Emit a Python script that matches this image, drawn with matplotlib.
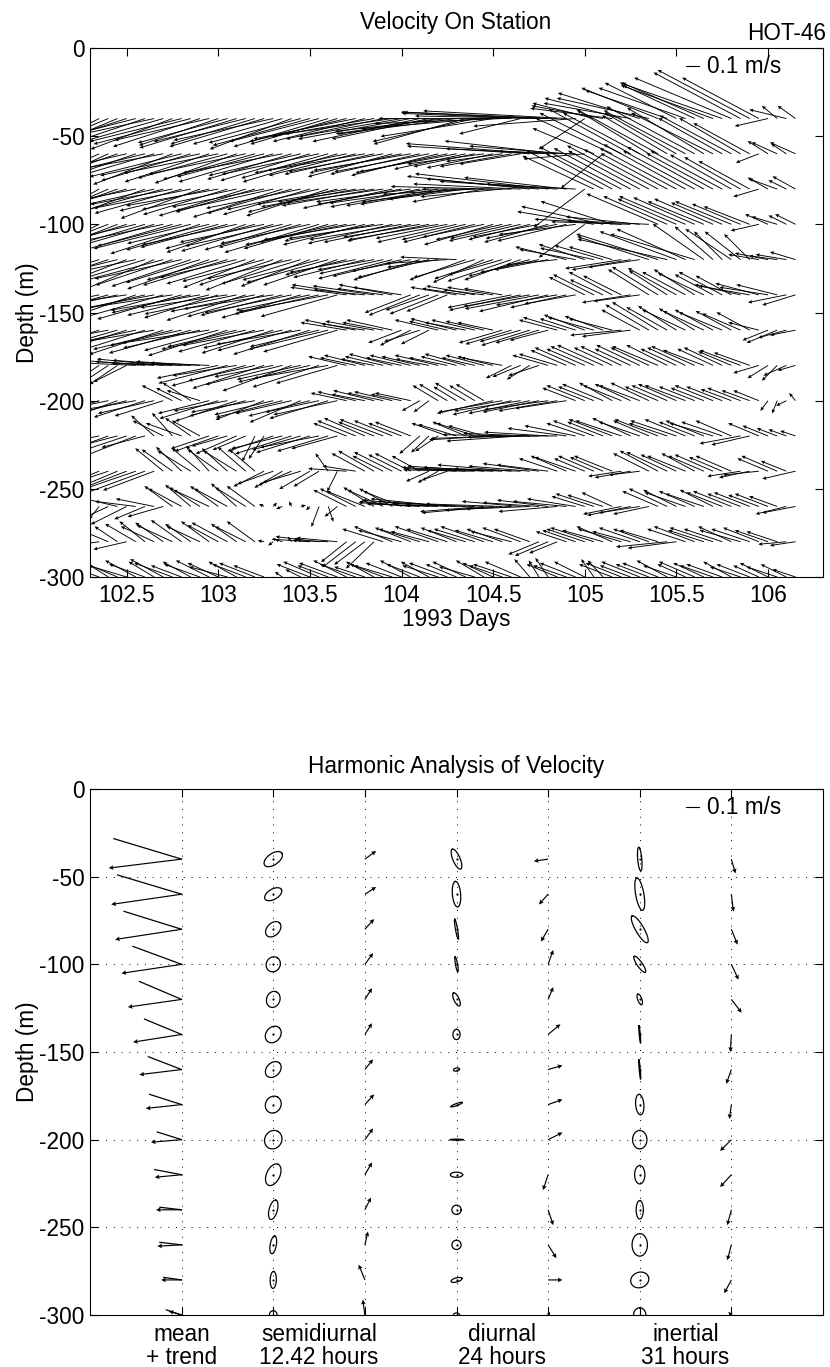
import numpy as np
import matplotlib
matplotlib.use('Agg')
import matplotlib.pyplot as plt

plt.rcParams['font.family'] = ['Liberation Sans', 'DejaVu Sans']
plt.rcParams['axes.unicode_minus'] = False

# ---------------- data: velocity on station (cm/s) ----------------
# sampling: every 0.05 day starting 102.30
T_START = 102.30
T_STEP = 0.05
depths = [40, 60, 80, 100, 120, 140, 160, 180, 200, 220, 240, 260, 280, 300]

u40 = [-32, -40, -44, -48,
       -62, -70, -66, -74, -70, -64, -72, -76, -68, -74, -62, -70, -76, -72, -66, -74, -78, -70, -64, -72, -76, -70, -74, -68,
       -76, -80, -72, -80, -76, -84, -80, -88, -84, -76, -80, -88, -92, -72, -80, -96, -88, -100, -104, -48, -100, -108, -104, -120, -112, -80,
       -36, -48, -56, -64, -60, -68, -64, -72, -60, -64, -56, -68, -56, -64, -72, -80, -76, -68, -72, -60, -26, -12, -29, -14]
v40 = [-24, -20, -18, -20,
       -20, -18, -22, -16, -20, -24, -18, -20, -22, -17, -21, -19, -23, -18, -20, -22, -17, -20, -24, -19, -21, -18, -22, -20,
       -18, -16, -18, -14, -16, -12, -14, -16, -18, -16, -12, -10, -12, -20, -18, -8, -14, -4, 0, -12, 4, 5, 2, 5, 6, -6,
       -24, 12, 10, 8, 16, 12, 20, 16, 24, 22, 28, 24, 26, 28, 26, 28, 32, 36, 38, 32, -6, 10, 7, 10]

u60 = [-36, -44, -48, -52,
       -70, -64, -74, -68, -76, -62, -72, -70, -78, -66, -74, -70, -64, -76, -72, -68, -74, -78, -66, -72, -70, -76, -68, -74,
       -72, -68, -76, -70, -74, -66, -72, -76, -70, -74, -68, -72, -76,
       -56, -48, -60, -52, -44, -56, -48,
       -96, -104, -80, -88, -76, -60, -48,
       -48, -33, -60, -64, -64, -60, -56, -64, -51, -56, -64, -69, -60, -64, -50, -56, -48, -44, -18, -16, -20, -12, -20]
v60 = [-24, -20, -22, -18,
       -16, -22, -18, -20, -14, -24, -18, -21, -17, -22, -15, -19, -23, -16, -20, -18, -22, -15, -20, -17, -21, -16, -19, -22,
       -15, -17, -13, -16, -14, -18, -15, -13, -16, -14, -17, -15, -14,
       -12, -10, -8, -11, -6, -10, -8,
       6, 8, 4, 10, 6, 2, -4,
       20, -27, 28, 32, 35, 32, 34, 35, 30, 32, 34, 37, 36, 32, 28, 30, 28, 24, -7, 10, 9, 8, 9]

u80 = [-30, -40, -46, -50,
       -66, -72, -60, -70, -74, -64, -68, -76, -62, -70, -72, -66, -74, -68, -62, -72, -76, -70, -66, -74, -68, -72, -64, -70,
       -70, -74, -68, -72, -76, -70, -66, -74, -70, -78, -72, -68, -74,
       -60, -72, -56, -80, -64, -70, -84,
       -96, -88, -104, -92, -80, -70, -40,
       -56, -60, -52, -64, -60, -56, -64, -58, -52, -60, -64, -56, -60, -52, -56, -48, -44, -40, -20, -16, -22, -14, -18]
v80 = [-26, -22, -20, -18,
       -18, -14, -22, -16, -20, -12, -19, -15, -23, -17, -13, -20, -16, -21, -18, -14, -17, -22, -19, -15, -20, -16, -21, -18,
       -12, -14, -10, -13, -11, -15, -12, -10, -14, -11, -13, -12, -10,
       -8, -4, -10, 2, -6, 0, 4,
       10, 8, 12, 6, 9, 4, -30,
       26, 30, 28, 33, 32, 30, 34, 31, 28, 32, 35, 30, 33, 28, 30, 27, 25, 22, -6, 9, 8, 7, 10]

u100 = [-34, -42, -48, -52,
        -64, -70, -74, -62, -68, -72, -66, -76, -70, -64, -72, -68, -74, -62, -70, -66, -72, -76, -68, -64, -70, -74, -66, -72,
        -68, -72, -64, -70, -74, -66, -72, -68, -60, -64, -70, -56, -62,
        -50, -56, -48, -54, -52, -48, -56,
        -48, -52, -50, -56, -54, -60, -36,
        -60, -64, -56, -68, -62, -58, -64, -56, -50, -46, -52, -48, -44, -46, -40, -44, -38, -36, -22, -18, -20, -14, -16]
v100 = [-24, -20, -18, -20,
        -20, -16, -22, -18, -14, -21, -17, -19, -23, -15, -20, -18, -16, -22, -19, -14, -21, -17, -20, -18, -15, -22, -19, -16,
        -14, -12, -16, -13, -11, -15, -12, -14, -10, -13, -12, -11, -14,
        -12, -14, -10, -16, -12, -11, -13,
        -12, -10, -14, -11, -13, -8, -26,
        10, 14, 18, 4, 2, 6, 3, 24, 22, 20, 22, 21, 18, 20, 17, 18, 16, 14, -5, 8, 6, 7, 8]

u120 = [-50, -56, -60, -64, -58, -66, -62, -56, -64, -60, -68, -62, -58, -64, -56, -66, -60, -62, -56, -64, -58, -60, -66, -62, -54, -60, -64, -58,
        -48, -52, -56, -44, -50, -58, -54, -46, -52, -56, -40, -48, -44,
        -44, -48, -40, -46, -42, -50, -44, -48, -46, -42, -40,
        -40, -44, -36, -42, -38, -34,
        -44, -46, -40,
        -56, -64, -70, -60, -54, -66,
        -40, -30, -22, -36, -28, -20,
        -24, -26, -22, -24, -20]
v120 = [-22, -18, -20, -16, -22, -14, -19, -24, -17, -20, -15, -21, -18, -23, -16, -20, -14, -19, -22, -17, -20, -24, -15, -19, -21, -16, -18, -20,
        -12, -10, -14, -8, -11, -15, -13, -9, -16, -14, -6, -3, 2,
        -16, -14, -18, -15, -12, -17, -16, -13, -10, -8, -4,
        10, 8, 12, 9, 11, 10,
        -7, -8, -6,
        18, 20, 16, 22, 24, 20,
        28, 26, 22, 24, 22, 20,
        4, 5, 3, 4, 6]

u140 = [-56, -60, -66, -62, -70, -58, -64, -68, -60, -72, -66, -62, -70, -64, -58, -68, -72, -62, -66, -60, -70, -64, -68, -62, -58, -66, -70, -60,
        -44, -50, -40, -48, -36, -42, -38,
        -36, -40, -34, -38, -32,
        -36, -34, -38, -32, -36, -30,
        -50, -56, -52, -58, -54, -48, -44, -40,
        -28, -32, -26, -34, -30,
        -38, -36,
        -32, -36, -30, -38, -34, -32, -36, -30, -34, -28,
        -36, -40, -34, -38, -32, -30,
        -26]
v140 = [-16, -12, -18, -14, -10, -20, -15, -13, -17, -11, -19, -14, -12, -16, -18, -10, -15, -20, -13, -17, -11, -16, -14, -18, -12, -15, -13, -17,
        6, 8, 4, 7, 5, 8, 6,
        -14, -16, -12, -15, -13,
        6, 5, 7, 4, 6, 5,
        -10, -12, -9, -11, -13, -8, -10, -7,
        14, 16, 12, 18, 15,
        -6, -5,
        20, 22, 19, 21, 18, 20, 17, 16, 18, 15,
        8, 7, 9, 6, 8, -6,
        -8]

u160 = [-52, -58, -62, -56, -64, -60, -54, -66, -58, -62, -56, -64, -60, -68, -58, -62, -54, -66, -60, -64, -56, -62, -58, -66, -60, -54, -62, -58,
        -36, -40, -34, -38, -32, -36,
        -26, -24, -28, -22,
        -34, -30, -36, -32, -34, -30, -28,
        -34, -36, -32, -38, -34, -30,
        -30, -34, -28, -32, -36, -30, -34,
        -40, -38,
        -30, -34, -36, -32, -30, -34, -28, -32, -30, -34, -28, -30, -26,
        -24, -20, -24, -22, -20]
v160 = [-14, -18, -12, -16, -20, -13, -17, -11, -19, -15, -12, -18, -14, -10, -16, -20, -13, -15, -17, -12, -18, -14, -16, -11, -19, -13, -15, -17,
        6, 8, 5, 7, 6, 8,
        -10, -12, -9, -11,
        8, 7, 9, 6, 8, 7, 6,
        -10, -11, -9, -12, -10, -8,
        8, 10, 9, 12, 10, 11, 9,
        -4, -5,
        16, 20, 22, 18, 19, 16, 17, 15, 16, 14, 15, 13, 14,
        6, -8, -10, -6, -4]

u180 = [-20, -24, -18, -22, -26,
        -44, -50, -46, -52, -48, -54, -44, -50, -46,
        -48, -54, -50, -58, -52, -56, -46, -60, -54, -50, -56, -52, -58, -48,
        -30, -28, -32, -26, -30, -34, -28, -32, -30, -26, -34, -30, -28, -32, -26, -30, -28, -32,
        -20, -22, -18, -24,
        -28, -30,
        -28, -32, -30, -34, -36, -30, -32, -28, -34, -30, -36, -32, -28, -30, -34, -32, -28, -30, -26, -32, -28,
        -20, -16, -12, -18, -14]
v180 = [-14, -16, -12, -15, -13,
        2, 4, 3, 5, 2, 4, 1, 3, 2,
        -10, -14, -8, -16, -12, -18, -9, -15, -20, -11, -13, -17, -10, -14,
        7, 6, 8, 5, 7, 9, 6, 8, 7, 5, 8, 6, 7, 9, 6, 8, 7, 6,
        -10, -9, -11, -8,
        8, 9,
        12, 14, 13, 15, 16, 14, 15, 13, 16, 14, 15, 16, 13, 14, 15, 12, 13, 14, 11, 12, 10,
        -6, -10, -12, -8, -4]

u200 = [-36, -40, -44, -38, -42, -46, -40, -44, -38,
        -24, -20, -22, -26,
        -40, -46, -42, -48, -44, -50, -38, -46, -52, -44, -40, -48, -42, -46, -50,
        -28, -30, -26, -32, -28, -30, -24, -28,
        -14, -12,
        -20, -22, -18, -24, -20, -22,
        -44, -50, -46, -52, -48, -44, -50, -46, -40,
        -26, -30, -28, -32, -26, -30, -28, -32, -30, -26, -28, -30, -32, -28, -26, -30, -28, -24, -26, -22, -20,
        -6, -4, -8, -5]
v200 = [-10, -12, -9, -14, -11, -8, -13, -10, -12,
        12, 10, 14, 8,
        -10, -14, -8, -16, -12, -9, -15, -11, -13, -10, -17, -12, -9, -14, -11,
        6, 7, 5, 8, 6, 7, 5, 6,
        -8, -9,
        12, 13, 11, 14, 12, 13,
        -10, -9, -11, -8, -10, -9, -7, -8, -6,
        10, 12, 11, 13, 14, 12, 13, 12, 14, 11, 12, 13, 12, 11, 10, 12, 11, 9, 10, 8, 8,
        -8, -10, -4, 6]

u220 = [-36, -40, -44, -38, -42, -46, -34,
        -18, -24, -16, -28, -20, -22,
        -30, -34, -28, -32, -26,
        -10, -12,
        -36, -40, -44, -38, -42, -46, -40, -36,
        -26, -30, -32, -28, -34, -30, -26, -28,
        -16, -14, -18,
        -28, -30, -26, -30, -28,
        -50, -56, -54, -58, -52, -56, -50, -54, -46, -40,
        -30, -32, -28, -34, -36, -30, -32, -28, -34, -30, -36, -32, -28, -30, -34, -32, -28,
        -32, -30,
        -24, -20, -16, -14, -12]
v220 = [-12, -8, -16, -10, -14, -18, -9,
        16, 12, 18, 10, 14, 12,
        -10, -12, -8, -14, -11,
        -20, -18,
        -12, -10, -14, -11, -13, -9, -12, -10,
        10, 12, 14, 11, 13, 12, 10, 11,
        -14, -13, -12,
        10, 9, 11, 10, 8,
        -3, -2, 1, -4, 2, -1, 3, 0, 6, 8,
        10, 12, 11, 13, 12, 14, 11, 12, 13, 10, 12, 13, 11, 12, 10, 11, 12,
        -6, -7,
        10, 8, 6, 5, 4]

u240 = [-40, -44, -36, -48, -42, -38, -46, -40,
        -22, -24, -20, -26, -22, -18, -24, -20, -26, -22, -20,
        -24, -28, -22, -26, -30, -24, -20,
        -10, -8,
        -30, -26,
        -26, -28, -24, -30, -26, -28, -22,
        -18, -16, -20,
        -40, -50, -56, -60, -54, -62, -58, -52, -48, -44, -40,
        -30, -28, -32,
        -24, -28, -26, -30,
        -26, -28, -24,
        -28, -30, -32, -28, -30, -26, -28, -30, -26, -28,
        -26, -24, -28,
        -24, -28, -20,
        -26]
v240 = [-14, -18, -12, -20, -16, -13, -17, -15,
        18, 17, 19, 16, 18, 20, 17, 18, 16, 19, 17,
        -12, -10, -13, -11, -9, -14, -12,
        14, -16,
        2, 4,
        14, 16, 12, 15, 13, 14, 12,
        -8, -9, -7,
        2, 3, 1, 4, 2, 3, 5, 2, 4, 6, 5,
        10, 12, 11,
        10, 12, 11, 12,
        -4, -5, -3,
        14, 16, 15, 13, 12, 14, 12, 13, 11, 12,
        -4, -5, -3,
        10, 12, 8,
        -6]

u260 = [-30, -8, -26, -34, -28, -32, -24, -30, -28,
        -22, -26, -20, -24, -28, -22, -26, -20, -24, -22,
        -4, 3, -5, -2, 4, -3,
        -6, 4, -10,
        -26, -28, -30, -24, -28, -26, -30,
        -40, -48, -52, -56, -60, -62, -58, -54, -50, -56, -60, -52, -46, -50, -44, -40, -46, -42, -38,
        -26, -30, -28, -24,
        -30, -34, -32, -28,
        -28, -30, -26, -32, -28, -30, -26, -28, -30, -26, -28, -24, -26, -22,
        -24, -26]
v260 = [6, -10, -12, 8, -14, 4, -10, 6, -8,
        16, 14, 17, 15, 13, 16, 14, 18, 15, 16,
        2, 3, -2, 4, 1, -3,
        -16, -12, -8,
        13, 14, 12, 15, 13, 14, 12,
        4, 3, 5, 2, 6, 4, 3, 1, -4, -5, 2, -3, 4, -2, 3, 5, -4, 4, 6,
        8, 10, 9, 11,
        -6, -7, -5, -6,
        12, 14, 13, 11, 12, 10, 13, 11, 12, 10, 11, 9, 10, 8,
        -6, -5]

u280 = [-20, -28, -24, -18, -26,
        -24, -20, -26, -22, -28, -24, -20, -26, -22, -24, -28, -20, -24, -22,
        -5, -4, -6, -3, -5,
        -30, -34, -28, -32,
        -20, -26, -24, -22,
        -32, -30, -34, -28, -32, -30, -34, -32, -28, -30, -32, -34, -30, -28, -32, -30, -28,
        -24, -26, -22,
        -24, -26,
        -30, -34, -32, -28, -34, -30, -32, -28, -30,
        -40, -38,
        -30, -32, -28, -34, -30, -26, -32, -30, -28, -26, -24,
        -22, -20]
v280 = [8, -4, 10, 12, -6,
        14, 16, 12, 15, 13, 17, 14, 12, 16, 13, 15, 14, 12, 16,
        1, -3, 2, 4, 3,
        2, 4, 1, 3,
        -16, -20, -18, -21,
        10, 12, 9, 11, 10, 8, 12, 10, 11, 9, 10, 12, 9, 10, 8, 11, 10,
        -10, -11, -9,
        8, 9,
        10, 11, 9, 12, 10, 8, 11, 10, 9,
        -4, -5,
        10, 12, 9, 11, 10, 12, 9, 10, 11, 9, 8,
        -2, -3]

u300 = [-24, -28, -22, -26, -30, -24, -28, -20, -26, -30,
        -24, -22, -28, -26, -24, -30, -22, -26, -28, -24,
        -10, -6, -8, -12, -26, -28, -24, -30, -26, -28,
        -24, -22, -26, -30, -28, -24, -26, -22, -28, -30,
        -24, -26, -28, -22, -24, -26, -30, -28, -12, -8,
        -10, -24, -26, -28, -24, -10, -12, -26, -28, -24,
        -30, -26, -28, -24, -26, -22, -28, -24, -26, -28,
        -22, -24, -26, -20, -22, -24, -20, -18]
v300 = [12, 10, 14, 11, 9, 13, 10, 12, 14, 11,
        9, 12, 10, 13, 11, 8, 12, 10, 11, 9,
        -6, 4, -4, 6, 10, 12, 9, 11, 13, 10,
        8, 12, 10, 9, 11, 13, 10, 12, 9, 11,
        10, 12, 8, 13, 11, 9, 10, 12, 14, 13,
        15, 10, 9, 11, 12, 14, 13, 10, 11, 9,
        12, 10, 11, 13, 9, 10, 12, 11, 9, 10,
        12, 8, 10, 9, 11, 8, 10, 6]

uRows = [u40, u60, u80, u100, u120, u140, u160, u180, u200, u220, u240, u260, u280, u300]
vRows = [v40, v60, v80, v100, v120, v140, v160, v180, v200, v220, v240, v260, v280, v300]

# ---------------- data: harmonic analysis (cm/s, degrees) ----------------
meanU = [-57, -55, -52, -47, -42, -38, -33, -28, -24, -21, -20, -19, -16, -10]
meanV = [-7, -8, -8, -7, -6, -6, -4, -3, -2, -2, 0, -1, 0, 3]
trendU = [-53, -50, -45, -38, -33, -29, -26, -25, -19, -21, -17, -17, -14, -12]
trendV = [16, 15, 14, 14, 14, 12, 10, 8, 6, 4, 2, 2, 2, 4]

semiMajor = [8.2, 7.4, 7, 6, 6.4, 7, 7, 6.8, 7.4, 9, 7.8, 7, 6.6, 3.4]
semiMinor = [4.4, 4, 4.8, 5.4, 5.2, 5.6, 5.2, 6, 6.6, 5.2, 3.2, 2.4, 2.4, 3]
semiInc = [35, 30, 45, 60, 70, 50, 45, 60, 60, 65, 75, 80, 88, 90]
semiPhU = [8.8, 8.8, 7.2, 6.4, 5.6, 5.6, 6.4, 7.2, 6.4, 5.6, 4.8, 2.4, -4.8, -1.6]
semiPhV = [6.4, 5.6, 8, 8.8, 8.8, 8.8, 8, 8, 8.8, 9.6, 9.6, 10.4, 12, 12]

diurMajor = [8.4, 10, 8, 6, 5.6, 4, 2.4, 4.8, 5.2, 4.8, 3.6, 3.6, 4.4, 2.4]
diurMinor = [2.8, 3.2, 0.8, 0.8, 2, 2.8, 1.2, 0.8, 0.4, 2, 3.6, 3.6, 1.6, 1.6]
diurInc = [113, 95, 100, 100, 115, 90, 10, 20, 0, 0, 0, 90, 15, 0]
diurPhU = [-11.2, -7.2, -5.6, 4, 4, 9.6, 11.2, 11.2, 11.2, -4, 4, 6.4, 11.2, 1.6]
diurPhV = [-1.6, -8, -9.6, 11.2, 9.6, 8, 3.2, 4, 5.6, -12, -12, -10.4, 0, 2.4]

inerMajor = [9.2, 12.8, 12, 7.6, 4.4, 6.8, 7.6, 8, 7.2, 7.2, 7.2, 8.8, 7.2, 5.6]
inerMinor = [1.6, 3.2, 3.2, 2, 1.6, 0.4, 0.4, 3.2, 5.6, 4, 2.8, 6, 6, 4.8]
inerInc = [95, 100, 120, 125, 110, 95, 95, 95, 90, 90, 90, 90, 20, 90]
inerPhU = [3.2, 1.6, 4.8, 5.6, 8, -0.8, -4, -1.6, -8.8, -8.8, -3.2, -3.2, -5.6, -2.4]
inerPhV = [-11.2, -13.6, -12, -12, -10.4, -13.6, -11.2, -11.2, -8.8, -9.6, -12, -12, -10.4, 2.4]

bottomLabels = ['mean\n+ trend', 'semidiurnal\n12.42 hours', 'diurnal\n24 hours', 'inertial\n31 hours']
bottomLabelX = [1, 2.5, 4.5, 6.5]

# ---------------- figure ----------------
W, H = 830, 1367
PX_PER_CMS = 1.28   # screen pixels per cm/s (0.1 m/s bar)
FS = 16.3

fig = plt.figure(figsize=(W / 100, H / 100), dpi=100)
ax1 = fig.add_axes([90 / W, 1 - 577 / H, 733 / W, 529 / H])
ax2 = fig.add_axes([90 / W, 1 - 1315 / H, 733 / W, 526 / H])


def styleAxes(ax):
    ax.tick_params(direction='in', length=6, width=0.8, top=True, right=True, labelsize=FS)
    ax.tick_params(axis='x', pad=5)
    ax.tick_params(axis='y', pad=4)
    for s in ax.spines.values():
        s.set_linewidth(0.8)


# top panel: stick plot
xlim1 = (102.3, 106.3)
ax1.set_xlim(*xlim1)
ax1.set_ylim(-300, 0)
pxDay = 733 / (xlim1[1] - xlim1[0])
pxM = 529 / 300.0

T, D, U, V = [], [], [], []
for d, uu, vv in zip(depths, uRows, vRows):
    n = min(len(uu), len(vv))
    t = T_START + T_STEP * np.arange(n)
    T.append(t)
    D.append(np.full(n, -d))
    U.append(np.array(uu[:n]) * PX_PER_CMS / pxDay)
    V.append(np.array(vv[:n]) * PX_PER_CMS / pxM)
T, D, U, V = map(np.concatenate, (T, D, U, V))
ax1.quiver(T, D, U, V, angles='xy', scale_units='xy', scale=1, color='k',
           width=0.00125, headwidth=4, headlength=4.5, headaxislength=4, minlength=0.5)

ax1.set_xticks([102.5, 103, 103.5, 104, 104.5, 105, 105.5, 106])
ax1.set_xticklabels(['102.5', '103', '103.5', '104', '104.5', '105', '105.5', '106'])
ax1.set_yticks([0, -50, -100, -150, -200, -250, -300])
ax1.set_yticklabels(['0', '-50', '-100', '-150', '-200', '-250', '-300'])
styleAxes(ax1)
ax1.set_xlabel('1993 Days', fontsize=FS, labelpad=1)
ax1.set_ylabel('Depth (m)', fontsize=FS)
ax1.yaxis.set_label_coords(-51 / 733, 0.5)

# scale bar
barLen = 10 * PX_PER_CMS / 733
ax1.plot([0.813, 0.813 + barLen], [0.966, 0.966], transform=ax1.transAxes, color='k', lw=0.8)
ax1.text(0.842, 0.965, '0.1 m/s', transform=ax1.transAxes, fontsize=FS, va='center', ha='left')

fig.text(456 / W, 1 - 22 / H, 'Velocity On Station', ha='center', va='center', fontsize=FS)
fig.text(826 / W, 1 - 34 / H, 'HOT-46', ha='right', va='center', fontsize=FS)

# bottom panel: harmonic analysis
ax2.set_xlim(0, 8)
ax2.set_ylim(-300, 0)
pxX = 733 / 8.0
pxM2 = 526 / 300.0
ny = np.array([-d for d in depths], dtype=float)

theta = np.linspace(0, 2 * np.pi, 80)


def drawEllipses(xc, major, minor, inc):
    for y0, a, b, ang in zip(ny, major, minor, inc):
        r = np.deg2rad(ang)
        ex = a * np.cos(theta) * np.cos(r) - b * np.sin(theta) * np.sin(r)
        ey = a * np.cos(theta) * np.sin(r) + b * np.sin(theta) * np.cos(r)
        ax2.plot(xc + ex * PX_PER_CMS / pxX, y0 + ey * PX_PER_CMS / pxM2, color='k', lw=0.9)
        ax2.plot([xc], [y0], marker='.', ms=1.2, color='k')


def drawSticks(xc, su, sv):
    ax2.quiver(np.full(len(ny), xc), ny, np.array(su) * PX_PER_CMS / pxX,
               np.array(sv) * PX_PER_CMS / pxM2, angles='xy', scale_units='xy', scale=1,
               color='k', width=0.0016, headwidth=4, headlength=4, headaxislength=3.5, minlength=0.5)


# mean + trend
for y0, tu, tv in zip(ny, trendU, trendV):
    ax2.plot([1, 1 + tu * PX_PER_CMS / pxX], [y0, y0 + tv * PX_PER_CMS / pxM2], color='k', lw=0.9)
drawSticks(1, meanU, meanV)

drawEllipses(2, semiMajor, semiMinor, semiInc)
drawSticks(3, semiPhU, semiPhV)
drawEllipses(4, diurMajor, diurMinor, diurInc)
drawSticks(5, diurPhU, diurPhV)
drawEllipses(6, inerMajor, inerMinor, inerInc)
drawSticks(7, inerPhU, inerPhV)

ax2.set_xticks(range(1, 8))
ax2.set_xticklabels([])
ax2.set_yticks([0, -50, -100, -150, -200, -250, -300])
ax2.set_yticklabels(['0', '-50', '-100', '-150', '-200', '-250', '-300'])
ax2.grid(True, linestyle=(0, (1, 7)), color='k', lw=0.7)
styleAxes(ax2)
ax2.set_ylabel('Depth (m)', fontsize=FS)
ax2.yaxis.set_label_coords(-51 / 733, 0.5)
for lx, lab in zip(bottomLabelX, bottomLabels):
    ax2.text(lx, -0.016, lab, transform=ax2.get_xaxis_transform(), ha='center', va='top',
             fontsize=FS, linespacing=1.0, multialignment='center')

ax2.plot([0.813, 0.813 + barLen], [0.966, 0.966], transform=ax2.transAxes, color='k', lw=0.8)
ax2.text(0.842, 0.965, '0.1 m/s', transform=ax2.transAxes, fontsize=FS, va='center', ha='left')
fig.text(456 / W, 1 - 767 / H, 'Harmonic Analysis of Velocity', ha='center', va='center', fontsize=FS)

fig.savefig('out.png', dpi=100)
